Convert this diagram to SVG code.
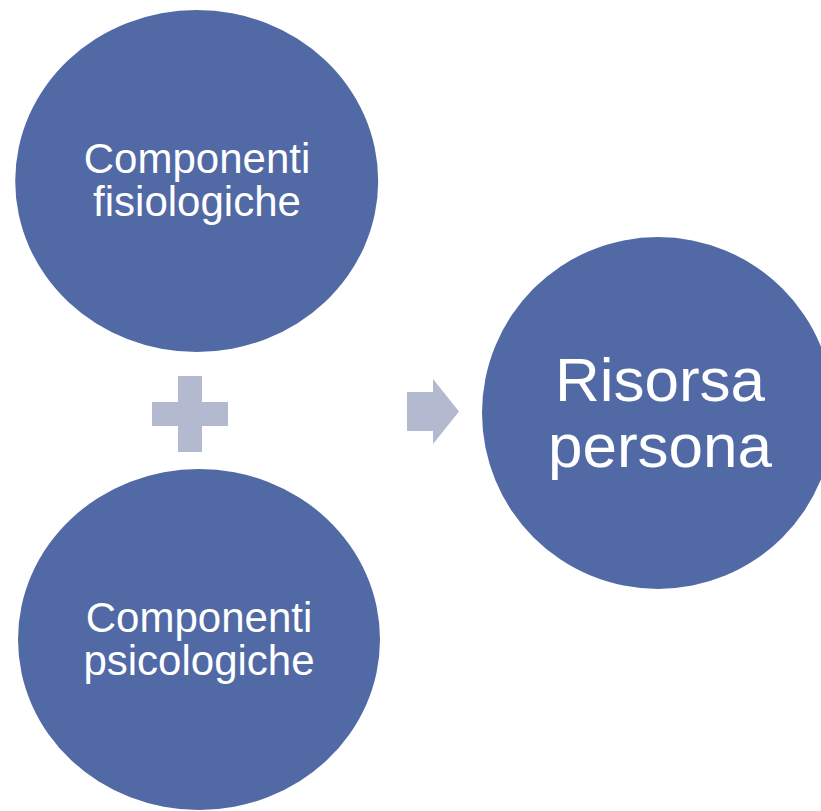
<svg xmlns="http://www.w3.org/2000/svg" width="821" height="811" viewBox="0 0 821 811">
<style>
.node{fill:#5169A5}
.op{fill:#B3B9CF}
.t{fill:#FFFFFF;font-family:"Liberation Sans",Arial,sans-serif;text-anchor:middle}
.s{font-size:42px}
.l{font-size:62px}
</style>
<rect width="821" height="811" fill="#FFFFFF"/>
<g id="fisiologiche">
<ellipse class="node" cx="196.7" cy="181" rx="181.5" ry="171"/>
<text class="t s" x="197" y="173">Componenti</text>
<text class="t s" x="197" y="216">fisiologiche</text>
</g>
<g id="psicologiche">
<ellipse class="node" cx="199" cy="639.5" rx="181" ry="170.5"/>
<text class="t s" x="199" y="632">Componenti</text>
<text class="t s" x="199" y="675">psicologiche</text>
</g>
<g id="risorsa">
<circle class="node" cx="658" cy="413" r="176"/>
<text class="t l" x="660" y="401">Risorsa</text>
<text class="t l" x="660" y="467">persona</text>
</g>
<g id="connectors">
<path id="plus" class="op" d="M178,376H202V402H228V426H202V452H178V426H152V402H178Z"/>
<path id="arrow" class="op" d="M407,392H433V379L459,411.5L433,444V431H407Z"/>
</g>
</svg>
